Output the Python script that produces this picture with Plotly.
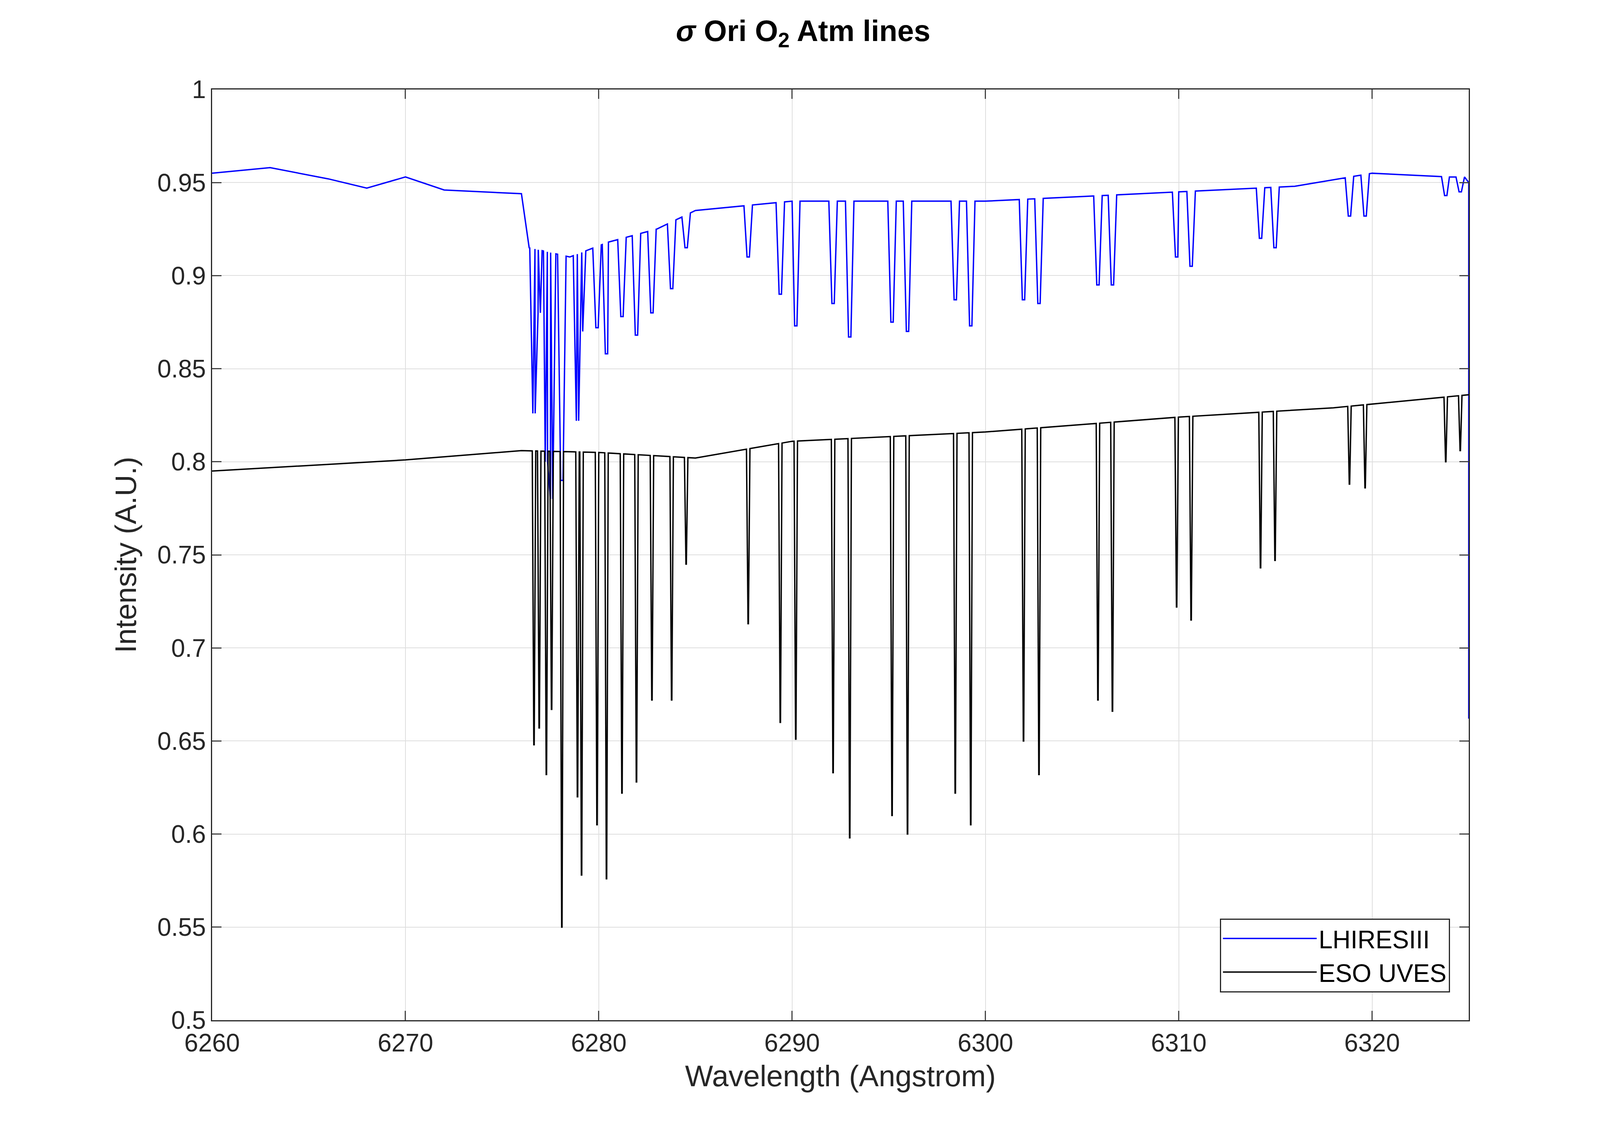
import numpy as np
import plotly.graph_objects as go

# absorption line centres (Angstrom) and minimum intensities
line_wl = [6276.65, 6276.92, 6277.29, 6277.56, 6278.09, 6278.90, 6279.11, 6279.91,
           6280.40, 6281.20, 6281.95, 6282.75, 6283.77, 6284.52, 6287.73, 6289.39,
           6290.19, 6292.12, 6292.98, 6295.17, 6295.97, 6298.44, 6299.24, 6301.97,
           6302.77, 6305.82, 6306.57, 6309.89, 6310.64, 6314.23, 6314.98, 6318.83,
           6319.64, 6323.81, 6324.56]
uves_min = [0.648, 0.657, 0.632, 0.667, 0.550, 0.620, 0.578, 0.605,
            0.576, 0.622, 0.628, 0.672, 0.672, 0.745, 0.713, 0.660,
            0.651, 0.633, 0.598, 0.610, 0.600, 0.622, 0.605, 0.650,
            0.632, 0.672, 0.666, 0.722, 0.715, 0.743, 0.747, 0.788,
            0.786, 0.800, 0.806]
lhires_min = [0.826, 0.880, 0.800, 0.780, 0.790, 0.822, 0.870, 0.872,
              0.858, 0.878, 0.868, 0.880, 0.893, 0.915, 0.910, 0.890,
              0.873, 0.885, 0.867, 0.875, 0.870, 0.887, 0.873, 0.887,
              0.885, 0.895, 0.895, 0.910, 0.905, 0.920, 0.915, 0.932,
              0.932, 0.943, 0.945]

# continuum levels
uves_cont_wl = [6260, 6265, 6270, 6276, 6280, 6285, 6290, 6300, 6310, 6318, 6325]
uves_cont = [0.795, 0.798, 0.801, 0.806, 0.805, 0.802, 0.811, 0.816, 0.824, 0.829, 0.836]
lhires_cont_wl = [6260, 6263, 6266, 6268, 6270, 6272, 6276, 6276.4, 6278.5, 6280.5,
                  6283, 6285, 6290, 6300, 6310, 6316, 6320, 6324]
lhires_cont = [0.955, 0.958, 0.952, 0.947, 0.953, 0.946, 0.944, 0.915, 0.910, 0.918,
               0.925, 0.935, 0.940, 0.940, 0.945, 0.948, 0.955, 0.953]


def build(cont_wl, cont, mins, half_w, flat):
    xs, ys = list(cont_wl), list(cont)
    for c, m in zip(line_wl, mins):
        for dx in (-half_w, half_w):
            xs.append(c + dx); ys.append(np.interp(c + dx, cont_wl, cont))
        for dx in (-flat, flat):
            xs.append(c + dx); ys.append(m)
    o = np.argsort(xs)
    return np.array(xs)[o], np.array(ys)[o]


ux, uy = build(uves_cont_wl, uves_cont, uves_min, 0.09, 0.01)
lx, ly = build(lhires_cont_wl, lhires_cont, lhires_min, 0.22, 0.06)
lx = np.append(lx, [6325, 6325]); ly = np.append(ly, [0.95, 0.662])

font = "Liberation Sans, Arial, sans-serif"
fig = go.Figure()
fig.add_trace(go.Scatter(x=lx, y=ly, mode="lines", name="LHIRESIII",
                         line=dict(color="#0000ff", width=3.5)))
fig.add_trace(go.Scatter(x=ux, y=uy, mode="lines", name="ESO UVES",
                         line=dict(color="black", width=3.5)))

ax = dict(showline=True, linecolor="#262626", linewidth=3, mirror="ticks",
          ticks="inside", ticklen=24, tickwidth=3, showgrid=True,
          gridcolor="#dedede", gridwidth=2, zeroline=False,
          tickfont=dict(size=64, color="#262626", family=font))
fig.update_xaxes(ax, range=[6260, 6325], dtick=10,
                 title=dict(text="Wavelength (Angstrom)", standoff=24,
                            font=dict(size=76, family=font, color="#262626")))
fig.update_yaxes(ax, range=[0.5, 1], dtick=0.05, tickformat="~g",
                 title=dict(text="Intensity (A.U.)", standoff=30,
                            font=dict(size=76, family=font, color="#262626")))
fig.update_layout(
    autosize=True,
    plot_bgcolor="white", paper_bgcolor="white",
    margin=dict(l=535, r=344, t=221, b=289),
    title=dict(text="<b><i>σ</i> Ori O<sub>2</sub> Atm lines</b>", x=0.5, xanchor="center",
               y=0.985, yanchor="top", font=dict(size=76, family=font, color="black")),
    legend=dict(x=0.985, y=0.03, xanchor="right", yanchor="bottom", bgcolor="white",
                bordercolor="#262626", borderwidth=3, itemwidth=240,
                font=dict(size=64, family=font, color="black")),
)
fig.write_html("out.html", default_width="100vw", default_height="100vh",
               config={"responsive": True})
